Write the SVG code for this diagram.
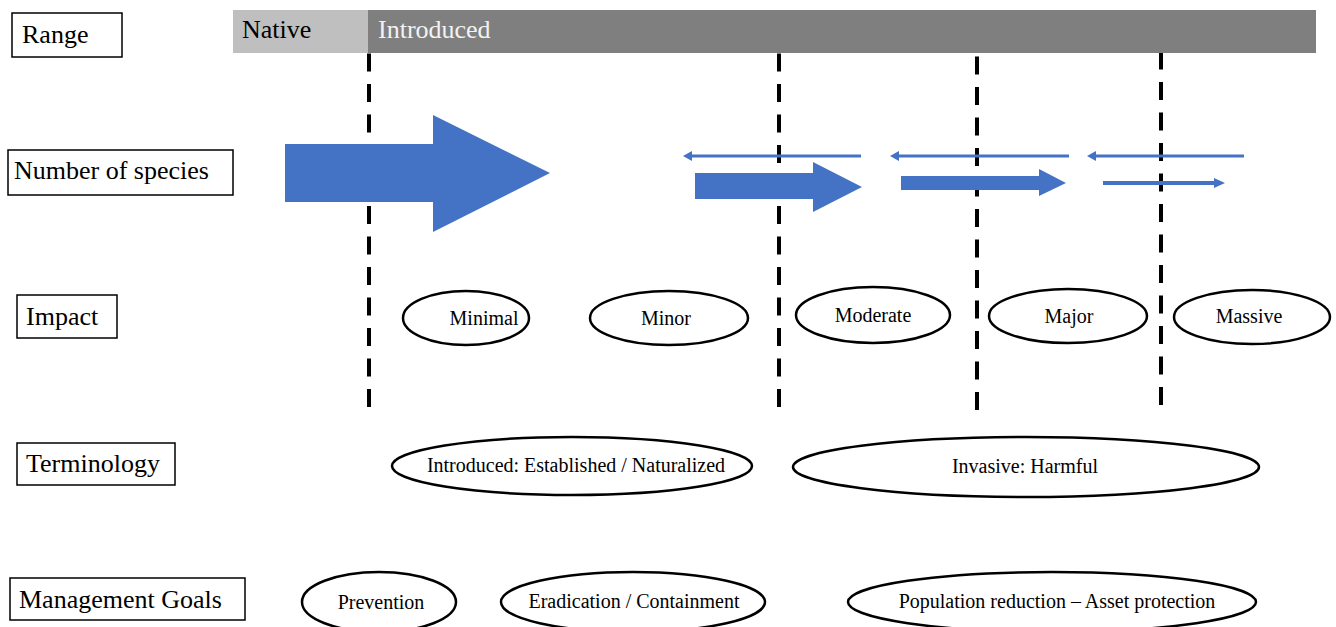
<svg xmlns="http://www.w3.org/2000/svg" width="1336" height="627" viewBox="0 0 1336 627">
<style>
.lbl{font-family:"Liberation Serif","Times New Roman",serif;font-size:26px;fill:#000}
.box{fill:#fff;stroke:#000;stroke-width:1.5}
.ell{fill:#fff;stroke:#000;stroke-width:2.5}
.et{font-family:"Liberation Serif","Times New Roman",serif;font-size:20px;fill:#000;text-anchor:middle}
.dash{stroke:#000;stroke-width:4;stroke-dasharray:18 12.5;fill:none}
.blue{fill:#4472c4}
.thin{stroke:#4472c4;stroke-width:3;fill:none}
</style>
<rect width="1336" height="627" fill="#fff"/>

<g id="dividers">
<line class="dash" x1="369" y1="407" x2="369" y2="53"/>
<line class="dash" x1="779" y1="407" x2="779" y2="53"/>
<line class="dash" x1="977" y1="410" x2="977" y2="53"/>
<line class="dash" x1="1161" y1="405" x2="1161" y2="53"/>
</g>

<g id="range-bar">
<rect x="233" y="10" width="135" height="43" fill="#bfbfbf"/>
<rect x="368" y="10" width="948" height="43" fill="#7f7f7f"/>
<text class="lbl" x="242" y="38">Native</text>
<text class="lbl" x="378" y="38" style="fill:#f2f2f2">Introduced</text>
</g>

<g id="row-labels">
<g id="lbl-range"><rect class="box" x="12" y="13" width="110" height="44"/><text class="lbl" x="22" y="43">Range</text></g>
<g id="lbl-species"><rect class="box" x="8" y="150" width="225" height="45"/><text class="lbl" x="14" y="179">Number of species</text></g>
<g id="lbl-impact"><rect class="box" x="17" y="295" width="100" height="43"/><text class="lbl" x="26" y="325">Impact</text></g>
<g id="lbl-term"><rect class="box" x="17" y="443" width="158" height="42"/><text class="lbl" x="26" y="472">Terminology</text></g>
<g id="lbl-mgmt"><rect class="box" x="10" y="578" width="235" height="42"/><text class="lbl" x="19" y="608">Management Goals</text></g>
</g>

<g id="connectors">
<polygon class="blue" points="285,144 433,144 433,115 550,173 433,232 433,202 285,202"/>
<polygon class="blue" points="695,173 813,173 813,162 862,187 813,212 813,199 695,199"/>
<polygon class="blue" points="901,176 1039,176 1039,169 1066,183 1039,196 1039,190 901,190"/>
<polygon class="blue" points="1103,181 1214,181 1214,178 1225,183 1214,188 1214,185 1103,185"/>
<line class="thin" x1="861" y1="156" x2="690" y2="156"/>
<polygon class="blue" points="683,156 692,151 692,161"/>
<line class="thin" x1="1069" y1="156" x2="897" y2="156"/>
<polygon class="blue" points="890,156 899,151 899,161"/>
<line class="thin" x1="1244" y1="156" x2="1094" y2="156"/>
<polygon class="blue" points="1087,156 1096,151 1096,161"/>
</g>

<g id="impact-minimal"><ellipse class="ell" cx="466" cy="318" rx="63" ry="27"/><text class="et" x="484" y="325">Minimal</text></g>
<g id="impact-minor"><ellipse class="ell" cx="669" cy="318" rx="79" ry="27"/><text class="et" x="666" y="325">Minor</text></g>
<g id="impact-moderate"><ellipse class="ell" cx="873" cy="315" rx="77" ry="28"/><text class="et" x="873" y="322">Moderate</text></g>
<g id="impact-major"><ellipse class="ell" cx="1068" cy="316" rx="79" ry="27"/><text class="et" x="1069" y="323">Major</text></g>
<g id="impact-massive"><ellipse class="ell" cx="1252" cy="317" rx="78" ry="27"/><text class="et" x="1249" y="323">Massive</text></g>

<g id="term-introduced"><ellipse class="ell" cx="572" cy="466" rx="180" ry="29"/><text class="et" x="576" y="472">Introduced: Established / Naturalized</text></g>
<g id="term-invasive"><ellipse class="ell" cx="1026" cy="467" rx="233" ry="30"/><text class="et" x="1025" y="473">Invasive: Harmful</text></g>

<g id="goal-prevention"><ellipse class="ell" cx="379" cy="602" rx="77" ry="30"/><text class="et" x="381" y="609">Prevention</text></g>
<g id="goal-eradication"><ellipse class="ell" cx="633" cy="602" rx="132" ry="30"/><text class="et" x="634" y="608">Eradication / Containment</text></g>
<g id="goal-population"><ellipse class="ell" cx="1052" cy="602" rx="204" ry="30"/><text class="et" x="1057" y="608">Population reduction – Asset protection</text></g>
</svg>
